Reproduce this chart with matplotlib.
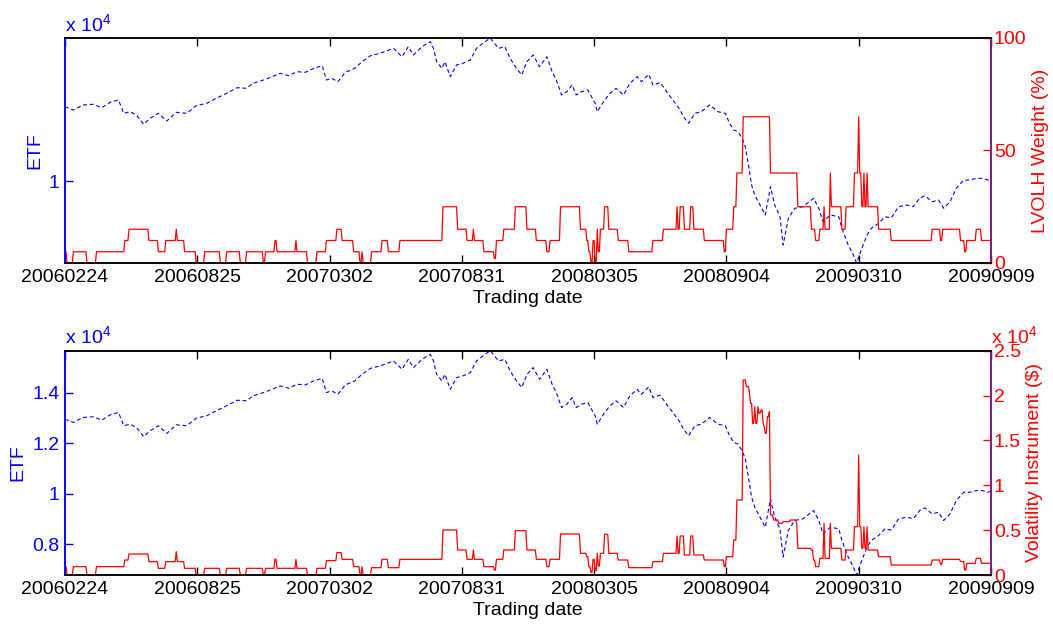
import matplotlib
matplotlib.use('Agg')
import matplotlib.pyplot as plt

plt.rcParams['font.family'] = ['Liberation Sans', 'DejaVu Sans']
plt.rcParams['font.size'] = 14
plt.rcParams['mathtext.default'] = 'regular'

# ---------------- data ----------------
n_days = 882
tick_days = [0, 126, 252, 378, 504, 630, 756, 882]
tick_labels = ['20060224', '20060825', '20070302', '20070831',
               '20080305', '20080904', '20090310', '20090909']

etf_days = [0, 8, 17, 27, 35, 43, 51, 56, 62, 68, 75, 81, 89, 97, 106, 116, 125, 135, 144,
            154, 164, 173, 179, 189, 195, 205, 213, 221, 229, 237, 245, 249, 254, 260, 267,
            276, 283, 291, 300, 313, 321, 327, 332, 340, 348, 351, 354, 359, 362, 367, 373,
            379, 386, 392, 398, 405, 413, 419, 424, 429, 435, 440, 446, 452, 459, 464, 468,
            473, 478, 483, 487, 492, 498, 505, 507, 513, 519, 525, 532, 538, 545, 549, 556,
            560, 567, 573, 579, 586, 589, 594, 600, 606, 614, 622, 629, 633, 637, 641, 645,
            648, 651, 654, 657, 662, 667, 672, 676, 681, 684, 689, 695, 703, 713, 718, 722,
            729, 737, 740, 746, 751, 754, 759, 764, 768, 775, 781, 787, 794, 802, 808, 814,
            819, 826, 832, 837, 843, 849, 856, 862, 868, 874, 879, 882]
etf_vals = [12949, 12818, 13016, 13043, 12910, 13122, 13213, 12688, 12750, 12621, 12254, 12490,
            12688, 12384, 12727, 12688, 12988, 13083, 13280, 13477, 13699, 13675, 13872, 14002,
            14093, 14267, 14172, 14330, 14306, 14464, 14567, 14002, 14069, 13935, 14306, 14464,
            14725, 14962, 15056, 15253, 14922, 15317, 14989, 15317, 15514, 15253, 14725, 14464,
            14725, 14133, 14594, 14661, 14792, 15253, 15451, 15660, 15253, 15317, 14859, 14527,
            14200, 14725, 14989, 14527, 14922, 14330, 14002, 13410, 13541, 13805, 13410, 13541,
            13608, 13083, 12751, 13146, 13477, 13675, 13410, 13872, 14133, 13935, 14227, 13805,
            13900, 13541, 13213, 12818, 12554, 12293, 12688, 12751, 13016, 12751, 12688, 12293,
            12029, 11962, 11701, 11370, 10647, 9858, 9463, 9069, 8674, 9791, 9069, 8607, 7490,
            8543, 8938, 9004, 9333, 8938, 8410, 8674, 8607, 8149, 7490, 7095, 6780, 7359, 7884,
            8149, 8346, 8607, 8560, 9004, 9069, 9004, 9333, 9436, 9199, 9266, 8938, 9199, 9727,
            10055, 10055, 10122, 10122, 10055, 10100]

# LVOLH weight (%) : day where a new level starts, and that level
w_days = [0, 2, 8, 21, 30, 57, 61, 80, 89, 96, 106, 107, 114, 125, 133, 148, 154, 167, 173,
          189, 191, 200, 202, 220, 221, 231, 240, 249, 259, 264, 275, 281, 283, 284, 292, 302,
          308, 319, 360, 374, 383, 389, 390, 399, 409, 411, 418, 429, 440, 449, 459, 462, 472,
          491, 497, 499, 501, 503, 505, 507, 508, 510, 514, 518, 527, 537, 560, 570, 583, 584,
          586, 590, 596, 599, 609, 628, 630, 637, 640, 646, 672, 698, 711, 715, 719, 723, 724,
          729, 730, 740, 744, 752, 756, 757, 759, 761, 762, 764, 765, 775, 787, 826, 834, 836,
          853, 857, 859, 868, 873]
w_vals = [5, 0, 5, 0, 5, 10, 15, 10, 5, 10, 15, 10, 5, 0, 5, 0, 5, 0, 5, 0, 5, 10, 5, 10, 5,
          0, 5, 10, 15, 10, 5, 0, 5, 0, 5, 10, 5, 10, 25, 15, 10, 15, 10, 5, 2, 10, 15, 25, 15,
          10, 5, 10, 25, 15, 10, 5, 0, 10, 0, 15, 5, 15, 25, 15, 10, 5, 10, 15, 25, 15, 25, 15,
          25, 15, 10, 5, 15, 25, 40, 65, 40, 25, 15, 10, 15, 25, 15, 40, 25, 15, 25, 40, 65, 40,
          25, 40, 25, 40, 25, 15, 10, 15, 10, 15, 10, 5, 10, 15, 10]

# Volatility instrument ($): day where a new value starts, and that value
v_days = [0, 2, 8, 21, 30, 57, 61, 80, 89, 96, 106, 107, 114, 125, 133, 148, 154, 167, 173,
          189, 191, 200, 202, 220, 221, 231, 240, 249, 259, 264, 275, 281, 283, 284, 292, 302,
          308, 319, 360, 374, 383, 389, 390, 399, 409, 411, 418, 429, 440, 449, 459, 462, 472,
          491, 497, 499, 501, 503, 505, 507, 508, 510, 514, 518, 527, 537, 560, 570, 583, 584,
          586, 590, 596, 599, 609, 628, 630, 637, 640, 646, 649, 652, 653, 655, 657, 658, 660,
          661, 663, 665, 666, 667, 669, 671, 672, 675, 680, 684, 691, 697, 698, 711, 713, 715,
          719, 723, 724, 729, 730, 740, 744, 752, 756, 757, 759, 761, 762, 764, 765, 775, 787,
          826, 834, 836, 853, 857, 859, 868, 873]
v_vals = [929, 0, 929, 0, 929, 1672, 2340, 1486, 743, 1486, 2600, 1486, 743, 0, 743, 0, 743,
          0, 743, 0, 743, 1750, 743, 1750, 743, 0, 743, 1600, 2490, 1746, 929, 0, 929, 0, 817,
          1746, 817, 1746, 5015, 2786, 1746, 2786, 1746, 929, 557, 1746, 2786, 4940, 2786, 1746,
          929, 1746, 4570, 2415, 2043, 929, 300, 1746, 500, 2415, 1000, 2415, 4533, 2415, 1672,
          817, 1486, 2415, 4347, 2415, 4347, 2229, 4347, 2229, 1672, 929, 2043, 3900, 8360,
          21735, 20990, 20250, 19137, 16900, 18760, 16900, 18760, 18023, 18390, 16900, 16530,
          15790, 17645, 18200, 6688, 6130, 5760, 5945, 6130, 5760, 2972, 2786, 1672, 929, 1858,
          5760, 1858, 5760, 2972, 1672, 2786, 5385, 13375, 5385, 2972, 5385, 2972, 5385, 2786,
          2043, 1115, 1672, 1190, 1746, 1500, 557, 1300, 1858, 1300]


def daily_path(days, vals, last_day):
    xs, ys = [days[0]], [vals[0]]
    for d, v in zip(days[1:], vals[1:]):
        if d - 1 > xs[-1]:
            xs.append(d - 1)
            ys.append(ys[-1])
        xs.append(d)
        ys.append(v)
    if xs[-1] < last_day:
        xs.append(last_day)
        ys.append(ys[-1])
    return xs, ys


BLUE = (0, 0, 1)
RED = (1, 0, 0)
PURPLE = '#80107f'

fig = plt.figure(figsize=(10.53, 6.25), dpi=100)


def panel(rect, r_days, r_vals, r_lim, r_ticks, r_ticklabels, r_label,
          l_ticks, l_ticklabels, r_offset):
    ax = fig.add_axes(rect)
    ax.plot(etf_days, etf_vals, color=BLUE, ls=(0, (3.5, 2.5)), lw=0.8)
    ax.set_xlim(0, n_days)
    ax.set_ylim(min(etf_vals), max(etf_vals))
    ax.set_xticks(tick_days)
    ax.set_xticklabels(tick_labels)
    ax.set_yticks(l_ticks)
    ax.set_yticklabels(l_ticklabels)
    ax.tick_params(axis='x', direction='in', top=True, length=6, width=1, pad=4,
                   colors='black', labelsize=14)
    ax.tick_params(axis='y', direction='in', right=True, length=6, width=1, pad=4,
                   colors=BLUE, labelsize=14)
    ax.set_ylabel('ETF', color=BLUE, fontsize=14, labelpad=4)
    ax.set_xlabel('Trading date', fontsize=14, labelpad=3)
    ax.text(0, 1.015, 'x 10$^{4}$', transform=ax.transAxes, color=BLUE,
            ha='left', va='bottom', fontsize=14)

    ax2 = ax.twinx()
    xs, ys = daily_path(r_days, r_vals, n_days)
    ax2.plot(xs, ys, color=RED, lw=0.9)
    ax2.set_xlim(0, n_days)
    ax2.set_ylim(*r_lim)
    ax2.set_yticks(r_ticks)
    ax2.set_yticklabels(r_ticklabels)
    ax2.tick_params(axis='y', direction='in', length=6, width=1, pad=2,
                    colors=RED, labelsize=14)
    ax2.set_ylabel(r_label, color=RED, fontsize=14, labelpad=4)
    if r_offset:
        ax2.text(1.0, 1.015, 'x 10$^{4}$', transform=ax2.transAxes, color=RED,
                 ha='left', va='bottom', fontsize=14)
    for a in (ax, ax2):
        a.spines['left'].set_color(BLUE)
        a.spines['right'].set_color(PURPLE)
        a.spines['top'].set_color('black')
        a.spines['bottom'].set_color('black')
        for s in a.spines.values():
            s.set_linewidth(1.1)
    return ax, ax2


panel([0.0617, 0.5792, 0.8794, 0.36], w_days, w_vals, (0, 100), [0, 50, 100],
      ['0', '50', '100'], 'LVOLH Weight (%)', [10000], ['1'], False)
panel([0.0617, 0.08, 0.8794, 0.3589], v_days, v_vals, (0, 25000),
      [0, 5000, 10000, 15000, 20000, 25000], ['0', '0.5', '1', '1.5', '2', '2.5'],
      'Volatility Instrument ($)', [8000, 10000, 12000, 14000],
      ['0.8', '1', '1.2', '1.4'], True)

fig.savefig('out.png', dpi=100)
